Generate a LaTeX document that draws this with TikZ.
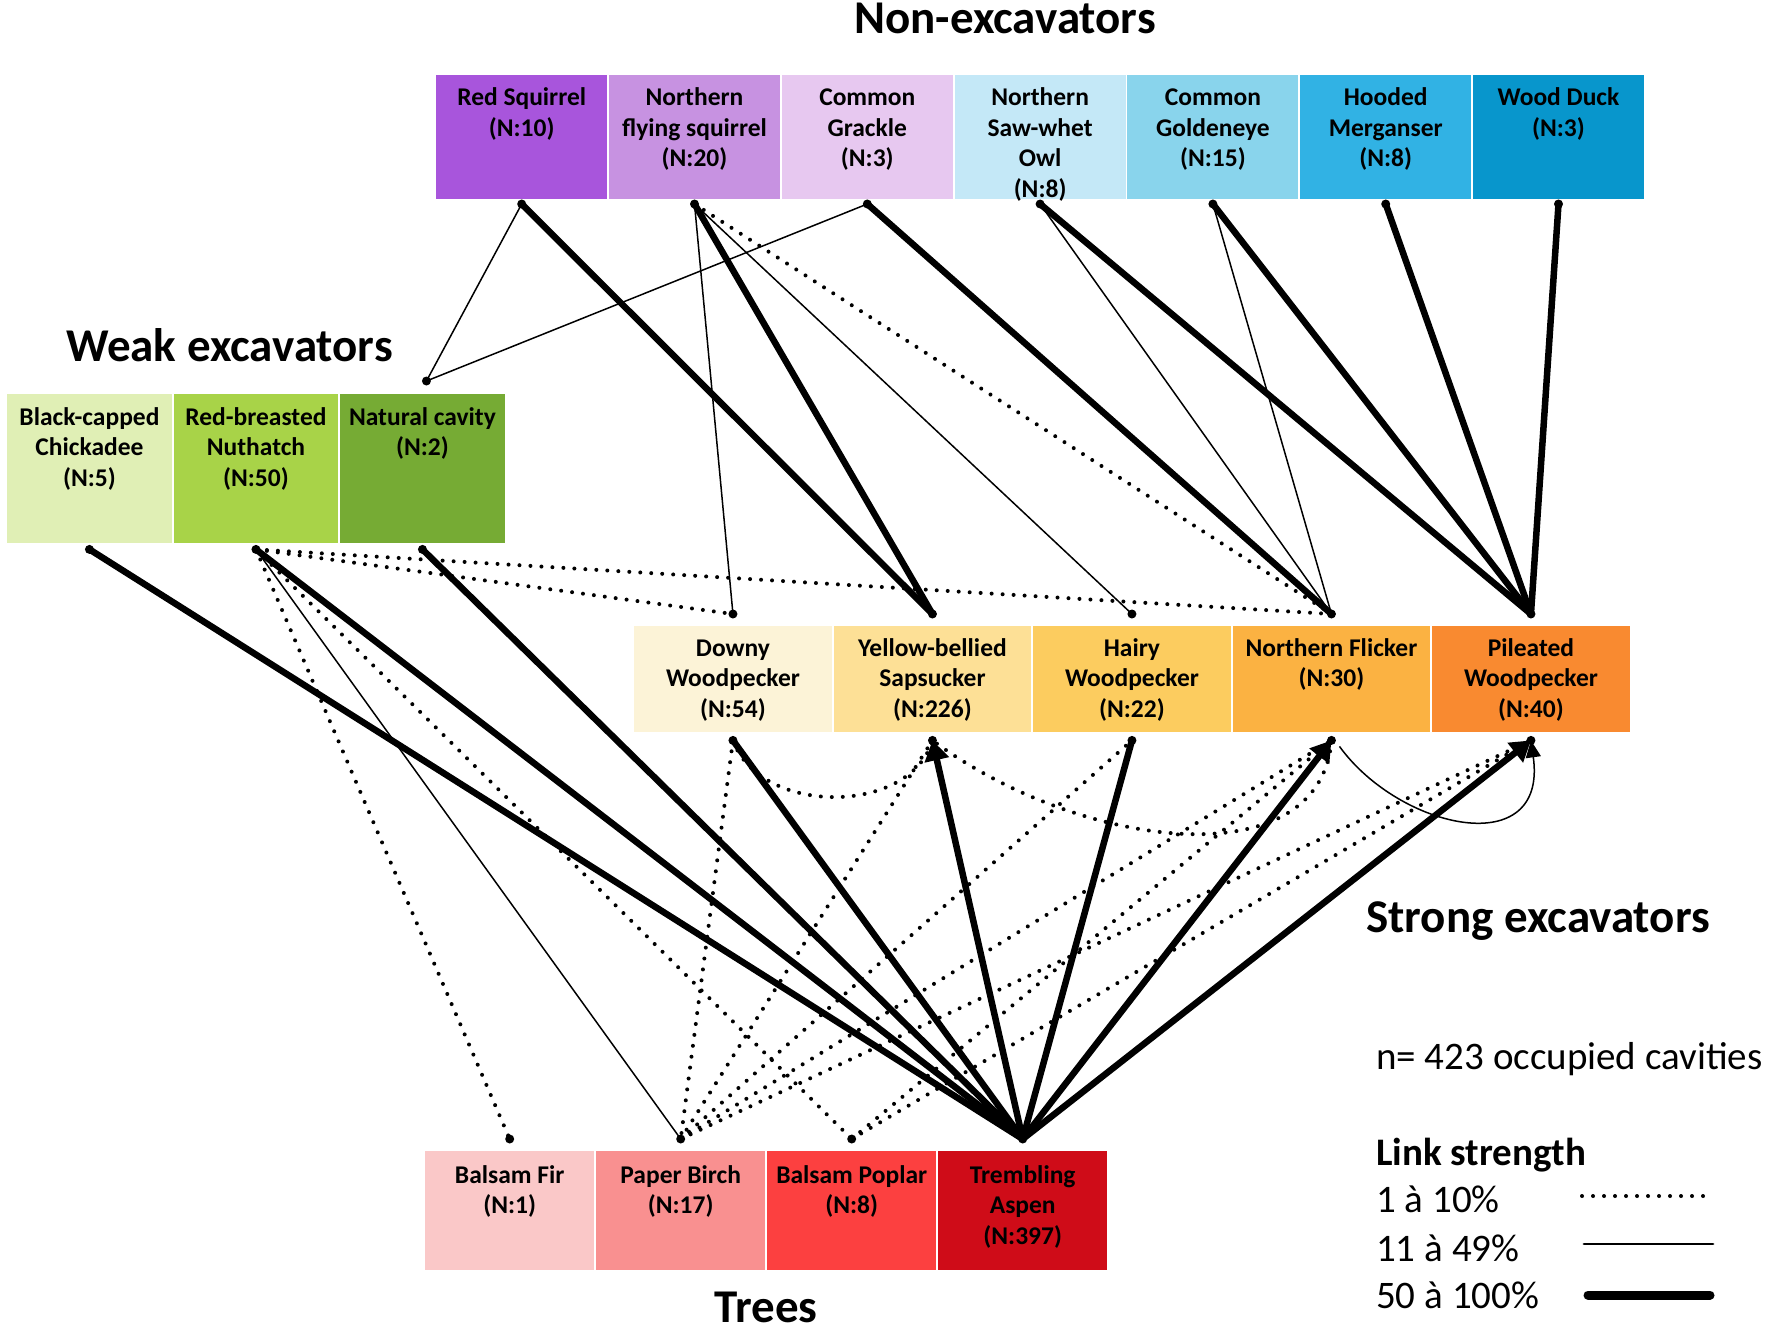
\documentclass[tikz,border=0pt]{standalone}
\usepackage{fontspec}
\setmainfont{Carlito}
\usetikzlibrary{arrows.meta}

% box colours
\definecolor{rsq}{HTML}{A855DC}
\definecolor{nfs}{HTML}{C792E1}
\definecolor{cgr}{HTML}{E7C8F0}
\definecolor{swo}{HTML}{C4E8F7}
\definecolor{cge}{HTML}{89D4EC}
\definecolor{hme}{HTML}{31B2E4}
\definecolor{wdu}{HTML}{0896CC}
\definecolor{bcc}{HTML}{E0EFB5}
\definecolor{rbn}{HTML}{A8D348}
\definecolor{ncv}{HTML}{76AB34}
\definecolor{dwo}{HTML}{FCF3D7}
\definecolor{ybs}{HTML}{FDE096}
\definecolor{hwo}{HTML}{FCCC5F}
\definecolor{nfl}{HTML}{FBB242}
\definecolor{pwo}{HTML}{F98A30}
\definecolor{bfi}{HTML}{FAC8C8}
\definecolor{pbi}{HTML}{F99090}
\definecolor{bpo}{HTML}{FC4040}
\definecolor{tas}{HTML}{CF0C18}

\newcommand{\cellfont}{\fontsize{25.5pt}{30.5pt}\selectfont\bfseries}
\newcommand{\titlefont}{\fontsize{47pt}{50pt}\selectfont\bfseries}
\newcommand{\legfont}{\fontsize{39pt}{44pt}\selectfont}
\newcommand{\bx}{\rule{0pt}{23pt}}

\tikzset{
  cell/.style={draw=none, inner sep=0pt, anchor=north west},
  celltext/.style={anchor=north, align=center, inner sep=0pt, font=\cellfont},
  grouptitle/.style={inner sep=0pt, font=\titlefont},
  legtext/.style={inner sep=0pt, anchor=base west, font=\legfont},
  dotlink/.style={line width=4pt, dash pattern=on 0pt off 11pt, line cap=round},
  thinlink/.style={line width=1.5pt},
  thicklink/.style={line width=6.5pt},
  headtip/.style={-{Triangle[length=20pt,width=24pt]}}
}

\begin{document}
\begin{tikzpicture}[x=1pt, y=-1pt]
  \useasboundingbox[fill=white] (0,0) rectangle (1772,1332);

  % non-excavators
  \foreach \nm/\cl/\tx [count=\i from 0] in {
      rs/rsq/{Red Squirrel\\(N:10)},
      nfs/nfs/{Northern\\flying squirrel\\(N:20)},
      cg/cgr/{Common\\Grackle\\(N:3)},
      sw/swo/{Northern\\Saw-whet\\Owl\\(N:8)},
      ge/cge/{Common\\Goldeneye\\(N:15)},
      hm/hme/{Hooded\\Merganser\\(N:8)},
      wd/wdu/{Wood Duck\\(N:3)}}{
    \node[cell, fill=\cl, minimum width=171pt, minimum height=124pt] (\nm) at ({436+172.8*\i},74.6) {};
    \node[celltext] at ([yshift=-8pt]\nm.north) {\bx\tx};
    \coordinate (\nm-b) at ([yshift=-5pt]\nm.south);
  }

  % weak excavators
  \foreach \nm/\cl/\tx [count=\i from 0] in {
      bc/bcc/{Black-capped\\Chickadee\\(N:5)},
      rb/rbn/{Red-breasted\\Nuthatch\\(N:50)},
      nc/ncv/{Natural cavity\\(N:2)}}{
    \node[cell, fill=\cl, minimum width=164.5pt, minimum height=149pt] (\nm) at ({7+166.5*\i},394) {};
    \node[celltext] at ([yshift=-8pt]\nm.north) {\bx\tx};
    \coordinate (\nm-t) at ([xshift=4pt,yshift=13pt]\nm.north);
    \coordinate (\nm-b) at ([yshift=-6pt]\nm.south);
  }

  % strong excavators
  \foreach \nm/\cl/\tx [count=\i from 0] in {
      dw/dwo/{Downy\\Woodpecker\\(N:54)},
      ys/ybs/{Yellow-bellied\\Sapsucker\\(N:226)},
      hw/hwo/{Hairy\\Woodpecker\\(N:22)},
      nf/nfl/{Northern Flicker\\(N:30)},
      pw/pwo/{Pileated\\Woodpecker\\(N:40)}}{
    \node[cell, fill=\cl, minimum width=197.5pt, minimum height=106pt] (\nm) at ({634+199.5*\i},626) {};
    \node[celltext] at ([yshift=-7pt]\nm.north) {\bx\tx};
    \coordinate (\nm-t) at ([yshift=12pt]\nm.north);
    \coordinate (\nm-b) at ([yshift=-8pt]\nm.south);
  }

  % trees
  \foreach \nm/\cl/\tx [count=\i from 0] in {
      bf/bfi/{Balsam Fir\\(N:1)},
      pb/pbi/{Paper Birch\\(N:17)},
      bp/bpo/{Balsam Poplar\\(N:8)},
      ta/tas/{Trembling\\Aspen\\(N:397)}}{
    \node[cell, fill=\cl, minimum width=169pt, minimum height=119pt] (\nm) at ({425+171*\i},1151) {};
    \node[celltext] at ([yshift=-9pt]\nm.north) {\bx\tx};
    \coordinate (\nm-t) at ([yshift=12pt]\nm.north);
  }

  % group titles
  \node[grouptitle, anchor=base] (t-non) at (1005,34) {Non-excavators};
  \node[grouptitle, anchor=base west] (t-weak) at (66,361) {Weak excavators};
  \node[grouptitle, anchor=base west] (t-strong) at (1366,932) {Strong excavators};
  \node[grouptitle, anchor=base] (t-trees) at (766,1322) {Trees};

  % non-excavators to cavity makers
  \draw[thinlink] (rs-b) -- (nc-t);
  \draw[thicklink] (rs-b) -- (ys-t);
  \draw[thinlink] (nfs-b) -- (dw-t);
  \draw[thicklink] (nfs-b) -- (ys-t);
  \draw[thinlink] (nfs-b) -- (hw-t);
  \draw[dotlink] (nfs-b) -- (nf-t);
  \draw[thinlink] (cg-b) -- (nc-t);
  \draw[thicklink] (cg-b) -- (nf-t);
  \draw[thinlink] (sw-b) -- (nf-t);
  \draw[thicklink] (sw-b) -- (pw-t);
  \draw[thinlink] (ge-b) -- (nf-t);
  \draw[thicklink] (ge-b) -- (pw-t);
  \draw[thicklink] (hm-b) -- (pw-t);
  \draw[thicklink] (wd-b) -- (pw-t);

  % weak to strong
  \draw[dotlink] (rb-b) -- (dw-t);
  \draw[dotlink] (rb-b) -- (nf-t);

  % weak to trees
  \draw[thicklink] (bc-b) -- (ta-t);
  \draw[thicklink] (rb-b) -- (ta-t);
  \draw[dotlink] (rb-b) -- (bf-t);
  \draw[thinlink] (rb-b) -- (pb-t);
  \draw[dotlink] (rb-b) -- (bp-t);
  \draw[thicklink] (nc-b) -- (ta-t);

  % strong to trees
  \draw[thicklink] (dw-b) -- (ta-t);
  \draw[dotlink] (dw-b) -- (pb-t);
  \draw[dotlink] (pb-t) -- (ys-b);
  \draw[dotlink] (pb-t) -- (hw-b);
  \draw[dotlink] (pb-t) -- (nf-b);
  \draw[dotlink] (pb-t) -- (pw-b);
  \draw[dotlink] (bp-t) -- (nf-b);
  \draw[dotlink] (bp-t) -- (pw-b);
  \draw[thicklink] (hw-b) -- (ta-t);
  \draw[thicklink, headtip] (ta-t) -- (ys-b);
  \draw[thicklink, headtip] (ta-t) -- (nf-b);
  \draw[thicklink, headtip] (ta-t) -- (pw-b);

  % strong to strong
  \draw[dotlink] (dw-b) .. controls (760,816) and (910,816) .. (ys-b);
  \draw[dotlink] (nf-b) .. controls (1320,880) and (1080,850) .. (ys-b);
  \draw[thinlink, -{Triangle[length=17pt,width=15pt]}] ([xshift=8pt,yshift=-6pt]nf-b) .. controls (1400,830) and (1548,862) .. (pw-b);

  % end dots
  \foreach \p in {rs-b, nfs-b, cg-b, sw-b, ge-b, hm-b, wd-b, nc-t, bc-b, rb-b, nc-b,
                  dw-t, ys-t, hw-t, nf-t, pw-t, dw-b, ys-b, hw-b, nf-b, pw-b,
                  bf-t, pb-t, bp-t, ta-t}
    \fill (\p) circle[radius=4.5pt];

  % legend
  \node[legtext] (n-occ) at (1376,1069) {n= 423 occupied cavities};
  \node[legtext, font=\legfont\bfseries] (leg-head) at (1376,1165) {Link strength};
  \node[legtext] (leg-lo) at (1376,1212) {1 à 10\%};
  \node[legtext] (leg-md) at (1376,1261) {11 à 49\%};
  \node[legtext] (leg-hi) at (1376,1308) {50 à 100\%};
  \coordinate (lo-a) at (1582,1196);
  \coordinate (lo-b) at (1713,1196);
  \coordinate (md-a) at (1584,1244);
  \coordinate (md-b) at (1713,1244);
  \coordinate (hi-a) at (1588,1295);
  \coordinate (hi-b) at (1710,1295);
  \draw[dotlink] (lo-a) -- (lo-b);
  \draw[line width=2.8pt, line cap=round] (md-a) -- (md-b);
  \draw[line width=9pt, line cap=round] (hi-a) -- (hi-b);
\end{tikzpicture}
\end{document}
